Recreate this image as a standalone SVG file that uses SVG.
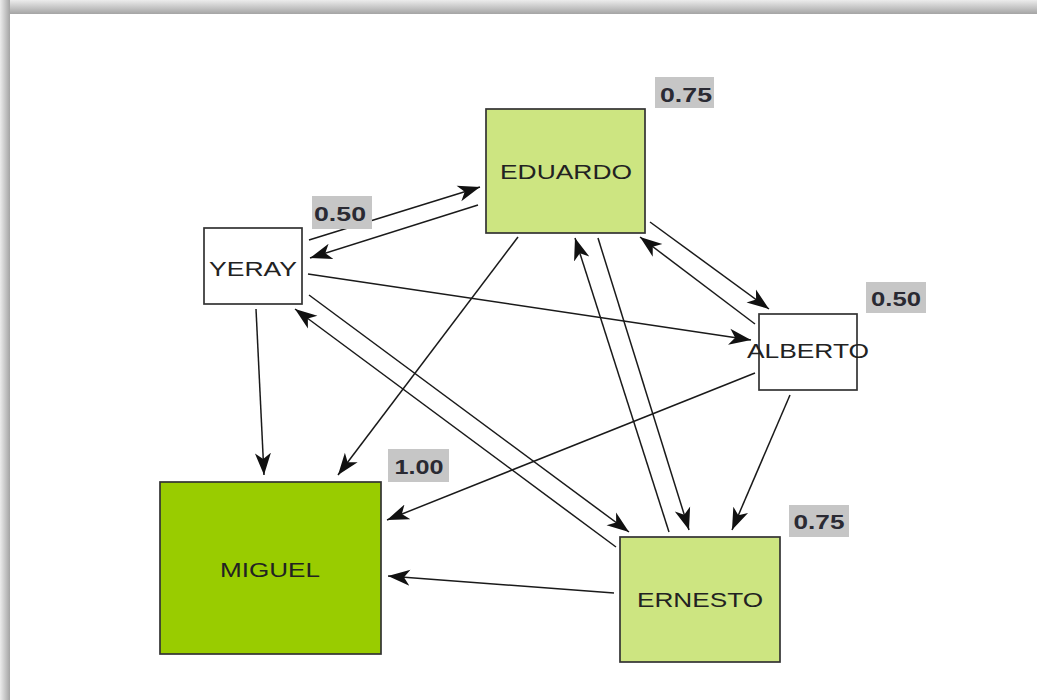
<svg xmlns="http://www.w3.org/2000/svg" width="1037" height="700" viewBox="0 0 1037 700">
<defs>
<linearGradient id="gTop" x1="0" y1="0" x2="0" y2="1">
<stop offset="0" stop-color="#ececec"/><stop offset="1" stop-color="#a4a4a4"/>
</linearGradient>
<linearGradient id="gLeft" x1="0" y1="0" x2="1" y2="0">
<stop offset="0" stop-color="#ececec"/><stop offset="1" stop-color="#a4a4a4"/>
</linearGradient>
<marker id="arr" markerUnits="userSpaceOnUse" markerWidth="24" markerHeight="18" refX="22" refY="9" orient="auto" viewBox="0 0 24 18">
<path d="M0,1 L22,9 L0,17 L6,9 z" fill="#111"/>
</marker>
<style>
.box{stroke:#333;stroke-width:1.7}
.lbl{font-family:"Liberation Sans",Arial,sans-serif;font-size:21px;fill:#222;text-anchor:middle}
.score{fill:#c6c6c6}
.sc{font-family:"Liberation Sans",Arial,sans-serif;font-size:20px;font-weight:bold;fill:#2a2a33;text-anchor:middle}
.edge{stroke:#1a1a1a;stroke-width:1.5;fill:none;marker-end:url(#arr)}
</style>
</defs>
<rect width="1037" height="700" fill="#ffffff"/>
<rect x="0" y="0" width="1037" height="14" fill="url(#gTop)"/>
<rect x="0" y="0" width="10" height="700" fill="url(#gLeft)"/>
<rect x="10" y="14" width="1027" height="686" fill="#ffffff"/>

<g id="connectors">
<line class="edge" x1="309" y1="240" x2="480" y2="187"/>
<line class="edge" x1="478" y1="205" x2="310" y2="258"/>
<line class="edge" x1="308" y1="274" x2="751" y2="340"/>
<line class="edge" x1="256" y1="309" x2="264" y2="475"/>
<line class="edge" x1="616" y1="547" x2="295" y2="309"/>
<line class="edge" x1="309" y1="295" x2="629" y2="532"/>
<line class="edge" x1="518" y1="237" x2="338" y2="475"/>
<line class="edge" x1="755" y1="373" x2="387" y2="520"/>
<line class="edge" x1="614" y1="593" x2="388" y2="576"/>
<line class="edge" x1="669" y1="532" x2="575" y2="238"/>
<line class="edge" x1="598" y1="238" x2="689" y2="530"/>
<line class="edge" x1="650" y1="222" x2="769" y2="309"/>
<line class="edge" x1="755" y1="324" x2="640" y2="237"/>
<line class="edge" x1="790" y1="395" x2="732" y2="530"/>
</g>

<g id="node-eduardo">
<rect class="box" x="486" y="109" width="159" height="124" fill="#cde581"/>
<text class="lbl" x="566" y="179" textLength="132" lengthAdjust="spacingAndGlyphs">EDUARDO</text>
<rect class="score" x="655" y="77" width="59" height="31"/>
<text class="sc" x="686" y="102" textLength="52" lengthAdjust="spacingAndGlyphs">0.75</text>
</g>

<g id="node-yeray">
<rect class="box" x="204" y="228" width="98" height="76" fill="#ffffff"/>
<text class="lbl" x="253" y="276" textLength="88" lengthAdjust="spacingAndGlyphs">YERAY</text>
<rect class="score" x="312" y="196" width="60" height="33"/>
<text class="sc" x="340" y="221" textLength="52" lengthAdjust="spacingAndGlyphs">0.50</text>
</g>

<g id="node-alberto">
<rect class="box" x="759" y="314" width="98" height="76" fill="#ffffff"/>
<text class="lbl" x="808" y="358" textLength="122" lengthAdjust="spacingAndGlyphs">ALBERTO</text>
<rect class="score" x="866" y="282" width="60" height="31"/>
<text class="sc" x="896" y="306" textLength="50" lengthAdjust="spacingAndGlyphs">0.50</text>
</g>

<g id="node-ernesto">
<rect class="box" x="620" y="537" width="160" height="125" fill="#cde581"/>
<text class="lbl" x="700" y="607" textLength="126" lengthAdjust="spacingAndGlyphs">ERNESTO</text>
<rect class="score" x="789" y="505" width="60" height="32"/>
<text class="sc" x="819" y="529" textLength="51" lengthAdjust="spacingAndGlyphs">0.75</text>
</g>

<g id="node-miguel">
<rect class="box" x="160" y="482" width="221" height="172" fill="#99cc00"/>
<text class="lbl" x="270" y="577" textLength="100" lengthAdjust="spacingAndGlyphs">MIGUEL</text>
<rect class="score" x="388" y="449" width="61" height="33"/>
<text class="sc" x="419" y="474" textLength="49" lengthAdjust="spacingAndGlyphs">1.00</text>
</g>
</svg>
